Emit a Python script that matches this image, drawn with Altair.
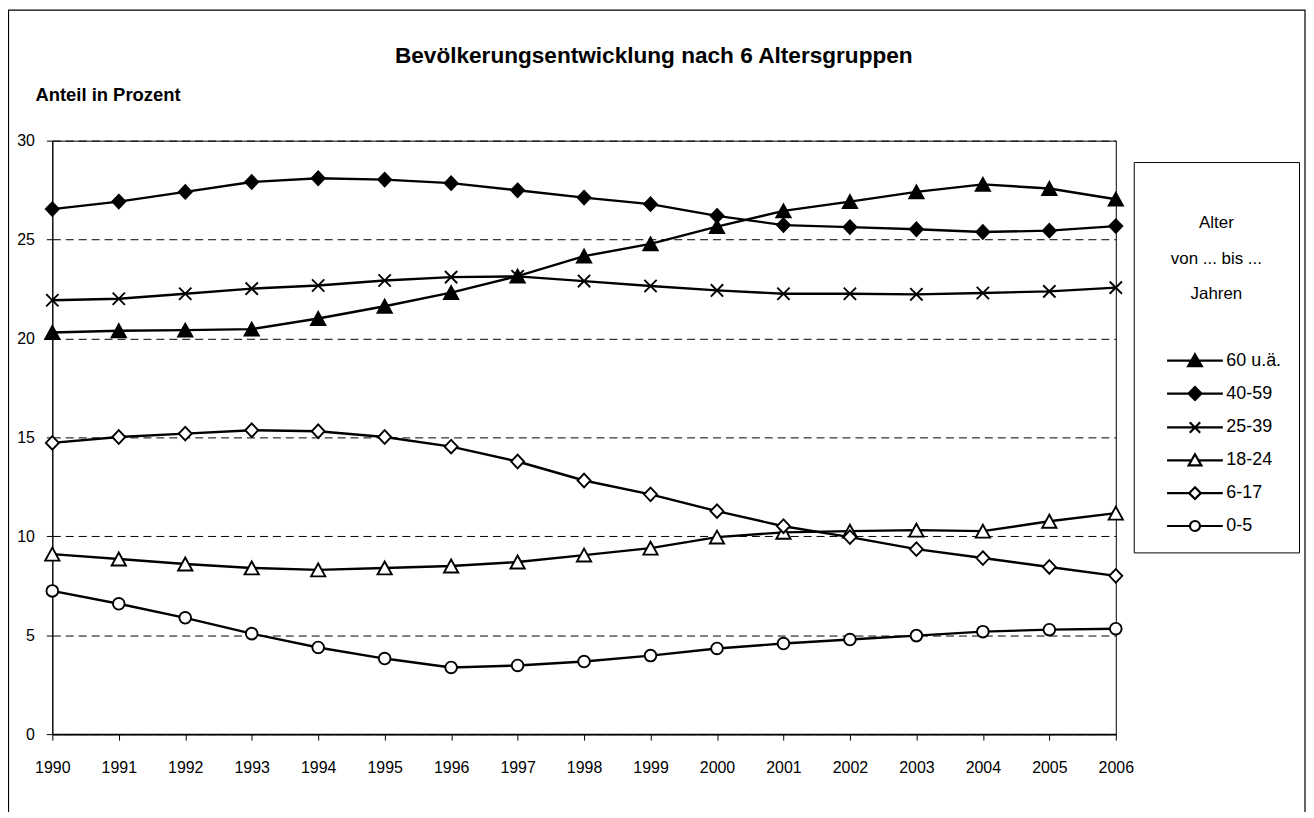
import altair as alt
import pandas as pd

years = list(range(1990, 2007))
groups = ["60 u.ä.", "40-59", "25-39", "18-24", "6-17", "0-5"]

a60 = [20.30, 20.39, 20.42, 20.47, 21.01, 21.63, 22.32, 23.15, 24.16, 24.78, 25.65, 26.45, 26.92, 27.41, 27.79, 27.58, 27.04]
a40 = [26.54, 26.92, 27.41, 27.91, 28.10, 28.03, 27.85, 27.49, 27.12, 26.79, 26.20, 25.73, 25.63, 25.52, 25.38, 25.45, 25.68]
a25 = [21.93, 22.01, 22.26, 22.52, 22.68, 22.93, 23.10, 23.14, 22.90, 22.65, 22.43, 22.26, 22.26, 22.23, 22.30, 22.38, 22.57]
a18 = [9.10, 8.85, 8.60, 8.40, 8.30, 8.40, 8.50, 8.70, 9.05, 9.40, 9.96, 10.20, 10.26, 10.31, 10.26, 10.76, 11.17]
a6 = [14.72, 15.02, 15.19, 15.36, 15.31, 15.02, 14.53, 13.78, 12.82, 12.12, 11.27, 10.51, 9.96, 9.35, 8.90, 8.45, 8.00]
a0 = [7.24, 6.59, 5.88, 5.08, 4.38, 3.82, 3.37, 3.47, 3.67, 3.97, 4.33, 4.58, 4.78, 4.98, 5.18, 5.28, 5.33]
series = [a60, a40, a25, a18, a6, a0]

title_text = "Bevölkerungsentwicklung nach 6 Altersgruppen"

rows = []
for g, vals in zip(groups, series):
    for yr, v in zip(years, vals):
        rows.append({"Jahr": yr, "Anteil": v, "Gruppe": g, "Legende": g})
df = pd.DataFrame(rows)

FONT = "Liberation Sans, Arial, sans-serif"
W, H = 1068, 596

k = 0.5523
def circ(r, cx=0.0):
    c = k * r
    return (f"M{cx + r},0C{cx + r},{c},{cx + c},{r},{cx},{r}C{cx - c},{r},{cx - r},{c},{cx - r},0"
            f"C{cx - r},{-c},{cx - c},{-r},{cx},{-r}C{cx + c},{-r},{cx + r},{-c},{cx + r},0Z")

marker_paths = [
    "M0,-1L1.1,1L-1.1,1Z",
    "M0,-1.05L1,0L0,1.05L-1,0Z",
    "M-0.95,-0.95L0.95,0.95M-0.95,0.95L0.95,-0.95",
    "M0,-1L1.1,1L-1.1,1Z",
    "M0,-1.05L1,0L0,1.05L-1,0Z",
    circ(0.9),
]
fills = ["black", "black", "white", "white", "white", "white"]

# legend symbols: unit = 21 px; visible line from -6 px to +50 px, marker centred at +22 px
m = 1.048
L0, L1 = -0.2857, 2.381
def tri(cx, h):
    return f"M{cx},{-h}L{cx + 1.05 * h},{0.85 * h}L{cx - 1.05 * h},{0.85 * h}Z"
def dia(cx, h):
    return f"M{cx},{-h}L{cx + h},0L{cx},{h}L{cx - h},0Z"
legend_paths = [
    f"M-1,0M{L0},0H{L1}" + tri(m, 0.31),
    f"M-1,0M{L0},0H{L1}" + dia(m, 0.31),
    f"M-1,0M{L0},0H{L1}M{m - 0.25},-0.25L{m + 0.25},0.25M{m - 0.25},0.25L{m + 0.25},-0.25",
    f"M-1,0M{L0},0H{m - 0.15}M{m + 0.15},0H{L1}" + tri(m, 0.29),
    f"M-1,0M{L0},0H{m - 0.28}M{m + 0.28},0H{L1}" + dia(m, 0.28),
    f"M-1,0M{L0},0H{m - 0.24}M{m + 0.24},0H{L1}" + circ(0.24, m),
]

x = alt.X("Jahr:Q",
          scale=alt.Scale(domain=[1990, 2006], nice=False, zero=False),
          axis=alt.Axis(values=years, format="d", title=None, grid=False,
                        tickSize=6, labelPadding=20, domainWidth=2, labelFlush=False,
                        labelOverlap=False, labelFontSize=16,
                        domainColor="black", tickColor="black"))
y = alt.Y("Anteil:Q",
          scale=alt.Scale(domain=[0, 30], nice=False),
          axis=alt.Axis(values=[0, 5, 10, 15, 20, 25, 30], grid=True,
                        gridDash=[8, 5], gridColor="black", gridWidth=1,
                        tickSize=6, labelPadding=12, labelFontSize=16,
                        domainColor="black", tickColor="black",
                        title="Anteil in Prozent", titleAngle=0,
                        titleX=-17.5, titleY=-46.5, titleAlign="left",
                        titleBaseline="middle", titleFontWeight="bold",
                        titleFontSize=18.5))

one = alt.Data(values=[{"t": title_text}])

frame = alt.Chart(one).mark_rect(
    filled=False, stroke="black", strokeWidth=1.2
).encode(x=alt.value(-44), x2=alt.value(1258), y=alt.value(-131), y2=alt.value(700))

title = alt.Chart(one).mark_text(
    font=FONT, fontSize=22.7, fontWeight="bold", color="black",
    align="center", baseline="middle"
).encode(text="t:N", x=alt.value(604), y=alt.value(-84.5))

lines = alt.Chart(df).mark_line(color="black", strokeWidth=2.4).encode(
    x=x, y=y, detail="Gruppe:N")

points = alt.Chart(df).mark_point(filled=True, size=169, strokeWidth=1.9, opacity=1).encode(
    x=x, y=y,
    shape=alt.Shape("Gruppe:N", scale=alt.Scale(domain=groups, range=marker_paths), legend=None),
    fill=alt.Fill("Gruppe:N", scale=alt.Scale(domain=groups, range=fills), legend=None),
    stroke=alt.value("black"),
)

leg_def = dict(
    title=["", "Alter", "von ... bis ...", "Jahren"],
    orient="none", legendX=1086, legendY=21.5,
    fillColor="white", strokeColor="black", padding=17,
    symbolSize=42 * 42, symbolStrokeWidth=2.2, symbolOpacity=1,
    labelFontSize=18, labelFont=FONT, labelColor="black", labelOffset=31,
    titleFontSize=17, titleFont=FONT, titleFontWeight="normal", titleColor="black",
    titleLineHeight=36, titleAnchor="middle", titleAlign="center", titlePadding=35,
    rowPadding=0,
)

legend_layer = alt.Chart(df).mark_point(filled=True, opacity=0).encode(
    x=x, y=y,
    shape=alt.Shape("Legende:N", scale=alt.Scale(domain=groups, range=legend_paths),
                    legend=alt.Legend(**leg_def)),
    fill=alt.Fill("Legende:N", scale=alt.Scale(domain=groups, range=fills),
                  legend=alt.Legend(**leg_def)),
    stroke=alt.Stroke("Legende:N", scale=alt.Scale(domain=groups, range=["black"] * 6),
                      legend=alt.Legend(**leg_def)),
)

chart = alt.layer(frame, title, lines, points, legend_layer).resolve_scale(
    shape="independent", fill="independent", stroke="independent"
).properties(
    width=W, height=H,
    padding={"left": 44.5, "top": 131.5, "right": 191, "bottom": 76},
    autosize="none",
).configure_view(stroke="black", strokeWidth=1).configure_axis(
    labelFont=FONT, labelColor="black", titleFont=FONT, titleColor="black"
)

chart.save("out.html", embed_options={"renderer": "svg", "actions": False})
